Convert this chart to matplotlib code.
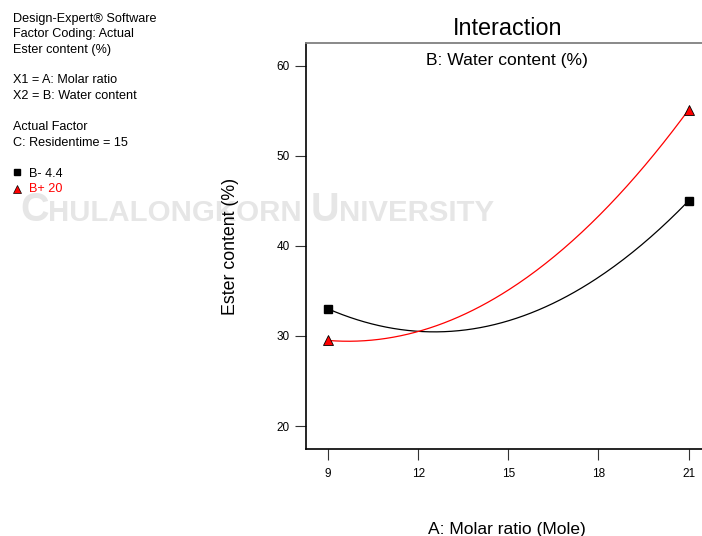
import matplotlib.pyplot as plt
import numpy as np
from matplotlib.lines import Line2D

plt.rcParams['font.family'] = ['Liberation Sans', 'DejaVu Sans']

# values
molar_ratio = [9, 12, 15, 18, 21]
ester_b_low = [33.0, 30.5, 31.7, 36.5, 45.0]    # B- 4.4
ester_b_high = [29.5, 30.5, 35.1, 43.3, 55.1]   # B+ 20
design_x = [9, 21]

x_ticks = [9, 12, 15, 18, 21]
y_ticks = [20, 30, 40, 50, 60]

info_lines = ['Design-Expert® Software', 'Factor Coding: Actual', 'Ester content (%)',
              '', 'X1 = A: Molar ratio', 'X2 = B: Water content',
              '', 'Actual Factor', 'C: Residentime = 15']

W, H = 702, 536
fig = plt.figure(figsize=(W / 100, H / 100), dpi=100)
renderer = fig.canvas.get_renderer()

# faint watermark behind the plot, squeezed to the width seen in the reference
wm_parts = [('C', 1.35), ('HULALONGKORN ', 1.0), ('U', 1.35), ('NIVERSITY', 1.0)]
wm_left, wm_right, wm_base = 20, 493, 221


def place_watermark(size):
    x = wm_left
    made = []
    for txt, k in wm_parts:
        t = fig.text(x / W, 1 - wm_base / H, txt, fontsize=size * k, color='#e6e6e6',
                     fontweight='bold', va='baseline', zorder=-1)
        x += t.get_window_extent(renderer).width
        made.append(t)
    return made, x - wm_left


parts, width = place_watermark(20)
scale = (wm_right - wm_left) / width
for t in parts:
    t.remove()
place_watermark(20 * scale)

ax = fig.add_axes([305.7 / W, 1 - 449 / H, (709 - 305.7) / W, (449 - 43) / H])
ax.patch.set_visible(False)

xs = np.linspace(9, 21, 200)
low_fit = np.polyfit(molar_ratio, ester_b_low, 2)
high_fit = np.polyfit(molar_ratio, ester_b_high, 2)
ax.plot(xs, np.polyval(low_fit, xs), color='black', lw=0.9)
ax.plot(xs, np.polyval(high_fit, xs), color='red', lw=0.9)
ax.plot(design_x, [ester_b_low[0], ester_b_low[-1]], ls='none', marker='s',
        ms=6, color='black')
ax.plot(design_x, [ester_b_high[0], ester_b_high[-1]], ls='none', marker='^',
        ms=7, mfc='red', mec='black', mew=0.6)

ax.set_xlim(8.25, 21.68)
ax.set_ylim(17.45, 62.52)
ax.set_xticks(x_ticks)
ax.set_yticks(y_ticks)
ax.tick_params(direction='out', length=7.7, width=0.8, labelsize=8.5, color='#333333')
ax.tick_params(axis='x', pad=6)
ax.tick_params(axis='y', pad=4)

ax.spines['right'].set_visible(False)
ax.spines['top'].set_color('#808080')
ax.spines['top'].set_linewidth(1.3)
ax.spines['left'].set_linewidth(1.2)
ax.spines['bottom'].set_linewidth(1.2)

ax.set_title('Interaction', fontsize=16.8, pad=5.8)
ax.text(0.5, 1 - 22 / 406, 'B: Water content (%)', transform=ax.transAxes,
        ha='center', va='baseline', fontsize=12.6)
ax.set_xlabel('A: Molar ratio (Mole)', fontsize=12.5, labelpad=30)
ax.set_ylabel('Ester content (%)', fontsize=12.8, labelpad=27)

# software info block on the left
baselines = [21.7, 37.2, 52.6, 68.0, 83.4, 99.2, 114.7, 130.3, 145.8]
for txt, yb in zip(info_lines, baselines):
    if txt:
        fig.text(13 / W, 1 - yb / H, txt, fontsize=9.1, va='baseline')

# factor legend
fig.add_artist(Line2D([17 / W], [1 - 172.5 / H], marker='s', ms=4.5, color='black',
                      transform=fig.transFigure))
fig.add_artist(Line2D([17 / W], [1 - 188.5 / H], marker='^', ms=5.5, mfc='red',
                      mec='black', mew=0.5, transform=fig.transFigure))
fig.text(29 / W, 1 - 176.7 / H, 'B- 4.4', fontsize=9.1, va='baseline')
fig.text(29 / W, 1 - 192.3 / H, 'B+ 20', fontsize=9.1, va='baseline', color='red')

fig.savefig('out.png', dpi=100)
